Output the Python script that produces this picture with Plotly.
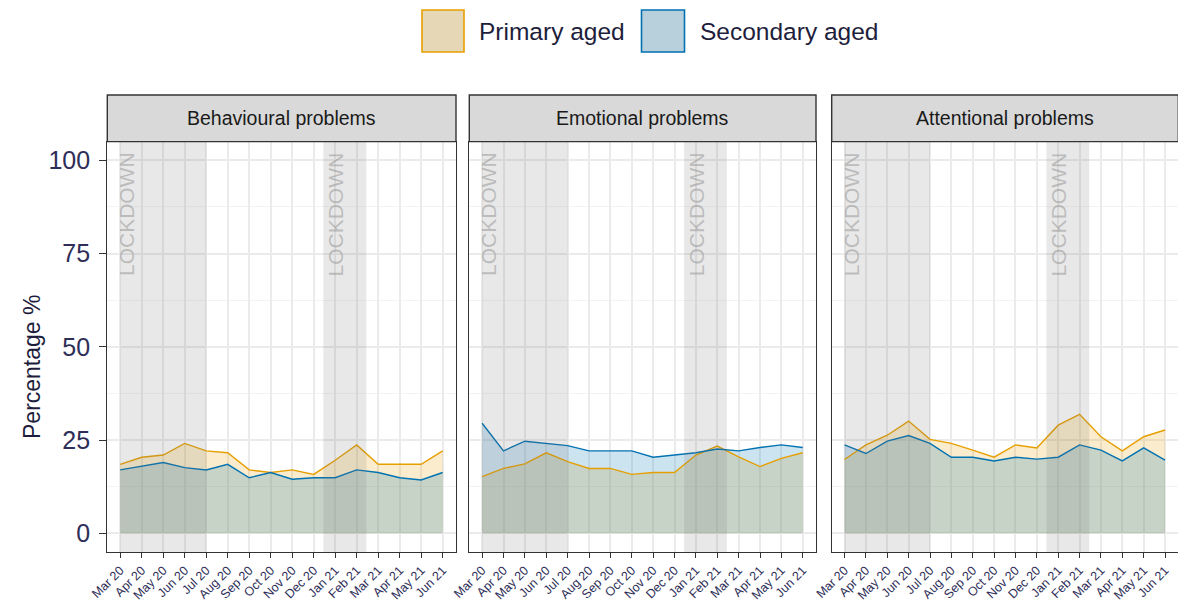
import plotly.graph_objects as go
from plotly.subplots import make_subplots

# ---------------- data ----------------
months = ["Mar 20", "Apr 20", "May 20", "Jun 20", "Jul 20", "Aug 20", "Sep 20", "Oct 20",
          "Nov 20", "Dec 20", "Jan 21", "Feb 21", "Mar 21", "Apr 21", "May 21", "Jun 21"]
month_idx = list(range(1, len(months) + 1))

panels = ["Behavioural problems", "Emotional problems", "Attentional problems"]

behav_primary = [18.5, 20.4, 21.0, 24.1, 22.1, 21.6, 17.0, 16.3, 17.0, 15.8, 19.6, 23.7, 18.5, 18.5, 18.5, 22.1]
behav_secondary = [17.0, 17.9, 19.0, 17.6, 17.0, 18.5, 14.9, 16.3, 14.5, 14.9, 14.9, 17.0, 16.3, 14.9, 14.3, 16.3]

emot_primary = [15.2, 17.4, 18.6, 21.6, 19.2, 17.4, 17.4, 15.8, 16.3, 16.3, 21.0, 23.4, 20.5, 17.9, 20.1, 21.6]
emot_secondary = [29.5, 22.1, 24.7, 24.1, 23.5, 22.1, 22.1, 22.1, 20.4, 21.0, 21.6, 22.6, 22.1, 23.0, 23.7, 23.0]

atten_primary = [19.8, 23.7, 26.3, 30.1, 25.2, 24.1, 22.3, 20.4, 23.7, 22.9, 29.0, 31.9, 25.9, 22.1, 25.9, 27.7]
atten_secondary = [23.7, 21.4, 24.7, 26.2, 24.1, 20.4, 20.4, 19.4, 20.4, 19.9, 20.4, 23.7, 22.3, 19.4, 22.9, 19.6]

primary_series = [behav_primary, emot_primary, atten_primary]
secondary_series = [behav_secondary, emot_secondary, atten_secondary]

lockdown_start = [1.0, 10.45]
lockdown_end = [5.0, 12.45]
lockdown_label_x = [1.3, 11.0]

y_ticks = [0, 25, 50, 75, 100]
legend_labels = ["Primary aged", "Secondary aged"]

# ---------------- styling ----------------
OFF = 8  # browser body margin
W, H = 1186 - OFF, 609 - OFF
FONT = "Liberation Sans, Arial, sans-serif"
ORANGE = "#E69F00"
BLUE = "#0072B2"
ORANGE_FILL = "rgba(230,159,0,0.2)"
BLUE_FILL = "rgba(0,114,178,0.2)"
BORDER = "#333333"
TICK_COL = "#2e2e58"


def px_x(v):
    return (v - OFF) / W


def px_y(v):
    return 1 - (v - OFF) / H


panel_px = [(107.3, 456.0), (469.3, 816.0), (831.7, 1178.3)]
y_top_px, y_bot_px = 141.6, 552.0
strip_top_px = 95.0

fig = make_subplots(rows=1, cols=3, shared_yaxes=False, horizontal_spacing=0.01)

for i in range(3):
    col = i + 1
    fig.add_trace(go.Scatter(x=month_idx, y=primary_series[i], mode="lines",
                             line=dict(width=0, color=ORANGE), fill="tozeroy",
                             fillcolor=ORANGE_FILL, showlegend=False, hoverinfo="skip"),
                  row=1, col=col)
    fig.add_trace(go.Scatter(x=month_idx, y=secondary_series[i], mode="lines",
                             line=dict(width=0, color=BLUE), fill="tozeroy",
                             fillcolor=BLUE_FILL, showlegend=False, hoverinfo="skip"),
                  row=1, col=col)
    fig.add_trace(go.Scatter(x=month_idx, y=primary_series[i], mode="lines",
                             line=dict(width=1.4, color=ORANGE), name=legend_labels[0],
                             showlegend=False),
                  row=1, col=col)
    fig.add_trace(go.Scatter(x=month_idx, y=secondary_series[i], mode="lines",
                             line=dict(width=1.4, color=BLUE), name=legend_labels[1],
                             showlegend=False),
                  row=1, col=col)

    xa = "x" if i == 0 else f"x{col}"
    ya = "y" if i == 0 else f"y{col}"

    for s, e in zip(lockdown_start, lockdown_end):
        fig.add_shape(type="rect", xref=xa, yref=f"{ya} domain", x0=s, x1=e, y0=0, y1=1,
                      fillcolor="rgba(120,120,120,0.17)", line=dict(width=0), layer="above")
    for lx in lockdown_label_x:
        fig.add_annotation(x=lx, y=85.5, xref=xa, yref=ya, text="LOCKDOWN", showarrow=False,
                           textangle=-90, xanchor="center", yanchor="middle",
                           font=dict(family=FONT, size=21, color="rgba(150,150,150,0.55)"))

    x0p, x1p = px_x(panel_px[i][0]), px_x(panel_px[i][1])
    fig.add_shape(type="rect", xref="paper", yref="paper", x0=x0p, x1=x1p,
                  y0=px_y(y_top_px), y1=px_y(strip_top_px),
                  fillcolor="#D9D9D9", line=dict(color=BORDER, width=1.4))
    fig.add_annotation(x=(x0p + x1p) / 2, y=px_y((strip_top_px + y_top_px) / 2),
                       xref="paper", yref="paper", text=panels[i], showarrow=False,
                       xanchor="center", yanchor="middle",
                       font=dict(family=FONT, size=19.5, color="#1a1a1a"))

    fig.update_xaxes(row=1, col=col, domain=[x0p, x1p], range=[0.4, 16.62],
                     tickmode="array", tickvals=month_idx, ticktext=months, tickangle=-45,
                     tickfont=dict(family=FONT, size=12.5, color=TICK_COL),
                     ticks="outside", ticklen=5, tickcolor=BORDER, tickwidth=1.2,
                     showgrid=True, gridcolor="#EBEBEB", gridwidth=1.5,
                     showline=True, mirror=True, linecolor=BORDER, linewidth=1.4,
                     zeroline=False, automargin=False, fixedrange=True)
    fig.update_yaxes(row=1, col=col, domain=[px_y(y_bot_px), px_y(y_top_px)],
                     range=[-5, 105], tickmode="array", tickvals=y_ticks,
                     showticklabels=(i == 0),
                     tickfont=dict(family=FONT, size=25, color=TICK_COL),
                     ticks="outside" if i == 0 else "", ticklen=7, tickcolor=BORDER, tickwidth=1.2,
                     ticklabelstandoff=4,
                     showgrid=True, gridcolor="#EBEBEB", gridwidth=1.5,
                     minor=dict(dtick=12.5, tick0=0, showgrid=True, gridcolor="#F3F3F3", gridwidth=1),
                     showline=True, mirror=True, linecolor=BORDER, linewidth=1.4,
                     zeroline=False, automargin=False, fixedrange=True)

fig.add_annotation(x=px_x(32), y=px_y(367), xref="paper", yref="paper", text="Percentage %",
                   showarrow=False, textangle=-90, xanchor="center", yanchor="middle",
                   font=dict(family=FONT, size=23, color="#1e1e3c"))

legend_boxes = [(422, 464), (641.5, 684.5)]
legend_fills = ["#E6D7B6", "#B8CFDC"]
legend_lines = [ORANGE, BLUE]
for (bx0, bx1), fc, lc, lab in zip(legend_boxes, legend_fills, legend_lines, legend_labels):
    fig.add_shape(type="rect", xref="paper", yref="paper", x0=px_x(bx0), x1=px_x(bx1),
                  y0=px_y(52), y1=px_y(10), fillcolor=fc, line=dict(color=lc, width=1.6))
    fig.add_annotation(x=px_x(bx1 + 13), y=px_y(32), xref="paper", yref="paper", text=lab,
                       showarrow=False, xanchor="left", yanchor="middle",
                       font=dict(family=FONT, size=24.5, color="#1e1e3c"))

fig.update_layout(width=W, height=H, margin=dict(l=0, r=0, t=0, b=0),
                  paper_bgcolor="white", plot_bgcolor="white", showlegend=False,
                  font=dict(family=FONT))

fig.write_html("out.html")
